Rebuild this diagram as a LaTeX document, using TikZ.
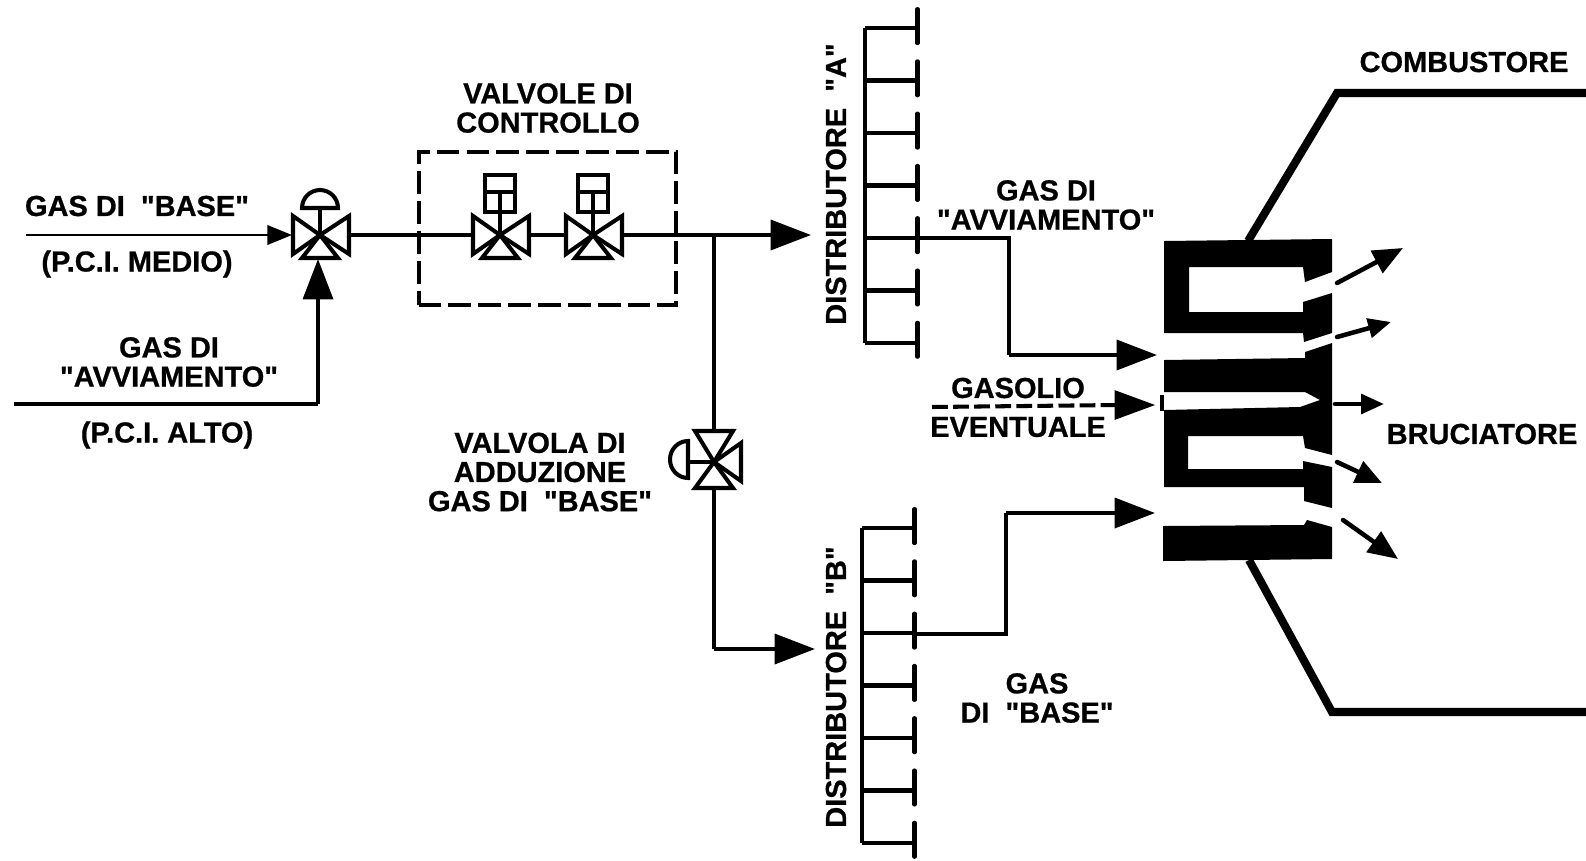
\documentclass[tikz,border=0pt]{standalone}
\usepackage{fontspec}
\setmainfont[Ligatures=TeXOff, BoldFeatures={FakeBold=0.7}]{Liberation Sans}
\usetikzlibrary{arrows.meta}
\tikzset{
  etichetta/.style={font=\bfseries\fontsize{16.5}{16.6}\selectfont, align=center, inner sep=0pt},
  linea/.style={line width=2.3pt},
  sottile/.style={line width=1.4pt},
  frecciaG/.style={linea, -{Triangle[length=23pt,width=17pt]}},
  frecciaP/.style={sottile, -{Triangle[length=14pt,width=11pt]}},
  fiamma/.style={line width=2.6pt, line cap=round, -{Triangle[length=17pt,width=14pt]}},
  fiammina/.style={line width=2.6pt, line cap=round, -{Triangle[length=13pt,width=11pt]}},
  pics/valvola/.style={code={
    \draw[linea, fill=white, line join=miter] (0,0) -- (-27,-19) -- (-27,19) -- cycle;
    \draw[linea, fill=white, line join=miter] (0,0) -- (29,-19) -- (29,19) -- cycle;
    \draw[linea, fill=white, line join=miter] (0,0) -- (-18,23) -- (18,23) -- cycle;
  }},
  pics/cupola/.style={code={
    \draw[linea] (0,0) -- (0,-27);
    \draw[linea, fill=white] (-18,-27) arc[start angle=180, end angle=0, x radius=18, y radius=-18] -- cycle;
  }},
  pics/attuatore/.style={code={
    \draw[linea] (0,0) -- (0,-23);
    \draw[linea] (-15,-60) rectangle (15,-23);
    \draw[linea] (-15,-43) -- (15,-43) (0,-43) -- (0,-23);
  }},
  pics/distributore/.style={code={
    \draw[linea] (0,0) -- (0,315);
    \foreach \yy in {0,52.5,105,157.5,210,262.5,315} {
      \draw[linea] (0,\yy) -- (52.5,\yy);
    }
    \draw[linea, line cap=round, dash pattern=on 19.4pt off 10.36pt] (52.5,-19) -- (52.5,333);
  }}
}
\begin{document}
\begin{tikzpicture}[x=0.02cm, y=-0.02cm]
  \useasboundingbox (0,0) rectangle (1586,860);

  % Valvole
  \coordinate (v1) at (320,235);
  \coordinate (v2) at (500,235);
  \coordinate (v3) at (593,235);
  \coordinate (nodo) at (714,235);
  \coordinate (v4) at (714,462);

  % Ingressi
  \coordinate (inB) at (26,235);
  \coordinate (inA) at (14,404);
  \coordinate (gomito) at (318,404);
  \coordinate (v1l) at (292,235);
  \coordinate (v1b) at (318,259);
  \draw[frecciaP] (inB) -- (v1l);
  \draw[linea] (inA) -- (gomito);
  \draw[frecciaG] (gomito) -- (v1b);

  % Linea principale
  \coordinate (distA) at (811,235);
  \coordinate (distB) at (815,649);
  \coordinate (angolo) at (714,649);
  \draw[linea] (v1) -- (v2) -- (v3);
  \draw[frecciaG] (v3) -- (distA);
  \draw[linea] (nodo) -- (v4);
  \draw[linea] (v4) -- (angolo);
  \draw[frecciaG] (angolo) -- (distB);

  \pic at (v1) {cupola};
  \pic at (v1) {valvola};
  \pic at (v2) {attuatore};
  \pic at (v2) {valvola};
  \pic at (v3) {attuatore};
  \pic at (v3) {valvola};

  % Valvola di adduzione
  \draw[linea] (v4) -- (688,462);
  \draw[linea, fill=white] (688,441) arc[start angle=90, end angle=270, x radius=18, y radius=-18.5] -- cycle;
  \draw[linea, fill=white] (v4) -- (695,431) -- (733,431) -- cycle;
  \draw[linea, fill=white] (v4) -- (695,488) -- (733,488) -- cycle;
  \draw[linea, fill=white] (v4) -- (741,443) -- (741,481) -- cycle;

  % Valvole di controllo
  \node[draw, line width=2.3pt, dash pattern=on 13pt off 4pt, minimum width=146.8pt, minimum height=86.7pt, inner sep=0pt] (box) at (547.5,228.5) {};

  % Distributori
  \pic at (865,28) {distributore};
  \pic at (862,528) {distributore};
  \coordinate (dA) at (917,238);
  \coordinate (dB) at (915,634);

  % Gas verso il bruciatore
  \coordinate (a1) at (1009,238);
  \coordinate (a2) at (1009,355);
  \coordinate (tipA) at (1157,355);
  \coordinate (b1) at (1006,634);
  \coordinate (b2) at (1006,513);
  \coordinate (tipB) at (1155,513);
  \draw[linea] (dA) -- (a1) -- (a2);
  \draw[frecciaG] (a2) -- (tipA);
  \draw[linea] (dB) -- (b1) -- (b2);
  \draw[frecciaG] (b2) -- (tipB);
  \coordinate (gs) at (932,407);
  \coordinate (gm) at (1118,405);
  \coordinate (tipG) at (1155,405);
  \draw[linea, dash pattern=on 9pt off 3pt] (gs) -- (gm);
  \draw[frecciaG, line width=0pt] (gm) -- (tipG);

  % Combustore
  \draw[line width=4.6pt] (1248,241) -- (1337,93) -- (1586,93);
  \draw[line width=4.6pt] (1249,560) -- (1332,712) -- (1586,712);

  % Bruciatore
  \fill (1164,241) -- (1332,239) -- (1332,272) -- (1305,282) -- (1303,267) -- (1189,267) -- (1189,312) -- (1303,312) -- (1303,302) -- (1332,293) -- (1332,333) -- (1304,342) -- (1303,333) -- (1164,333) -- cycle;
  \fill (1164,360) -- (1305,358) -- (1305,352) -- (1332,343) -- (1332,455) -- (1305,448) -- (1303,436) -- (1188,436) -- (1188,469) -- (1303,469) -- (1303,461) -- (1332,467) -- (1332,508) -- (1304,501) -- (1304,487) -- (1164,487) -- (1164,410) -- (1300,407) -- (1320,400) -- (1305,392) -- (1164,392) -- cycle;
  \draw[line width=2pt] (1162,395) -- (1162,411);
  \fill (1163,526) -- (1304,525) -- (1307,520) -- (1332,527) -- (1332,559) -- (1163,561) -- cycle;

  % Fiamme
  \coordinate (f1) at (1337,283);
  \coordinate (g1) at (1403,248);
  \coordinate (f2) at (1337,337);
  \coordinate (g2) at (1391,322);
  \coordinate (f3) at (1335,404);
  \coordinate (g3) at (1384,404);
  \coordinate (f4) at (1337,462);
  \coordinate (g4) at (1382,483);
  \coordinate (f5) at (1343,520);
  \coordinate (g5) at (1398,559);
  \draw[fiamma] (f1) -- (g1);
  \draw[fiammina] (f2) -- (g2);
  \draw[fiammina] (f3) -- (g3);
  \draw[fiamma, -{Triangle[length=15pt,width=13pt]}] (f4) -- (g4);
  \draw[fiamma] (f5) -- (g5);

  % Testi
  \node[etichetta] (combustore) at (1464,62) {COMBUSTORE};
  \node[etichetta] (controllo) at (548,108) {VALVOLE DI\\CONTROLLO};
  \node[etichetta] (gasbase) at (137,206) {GAS DI\ \ "BASE"};
  \node[etichetta] (medio) at (137,264) {(P.C.I. MEDIO)};
  \node[etichetta] (gasavv) at (169,362) {GAS DI\\"AVVIAMENTO"};
  \node[etichetta] (alto) at (167,435) {(P.C.I. ALTO)};
  \node[etichetta] (adduzione) at (540,472) {VALVOLA DI\\ADDUZIONE\\GAS DI\ \ "BASE"};
  \node[etichetta, rotate=90] (labA) at (836,184) {DISTRIBUTORE\ \ "A"};
  \node[etichetta, rotate=90] (labB) at (836,687) {DISTRIBUTORE\ \ "B"};
  \node[etichetta] (avv) at (1046,205) {GAS DI\\"AVVIAMENTO"};
  \node[etichetta] (gasolio) at (1018,388) {GASOLIO};
  \node[etichetta] (eventuale) at (1018,427) {EVENTUALE};
  \node[etichetta] (base) at (1037,698) {GAS\\DI\ \ "BASE"};
  \node[etichetta] (bruciatore) at (1482,434) {BRUCIATORE};
\end{tikzpicture}
\end{document}
